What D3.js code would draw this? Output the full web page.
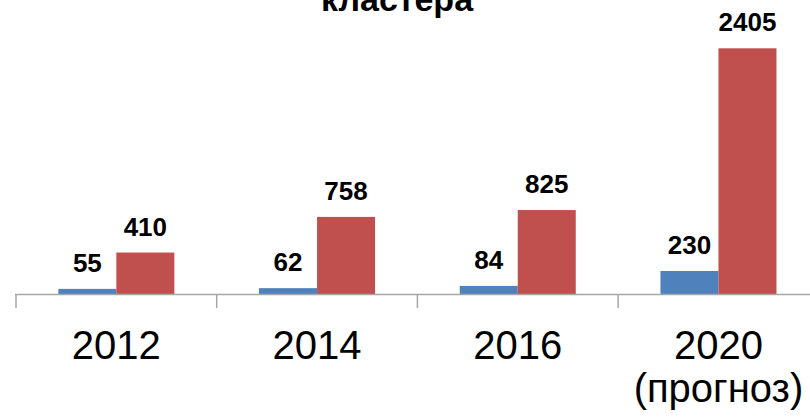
<!DOCTYPE html>
<html>
<head>
<meta charset="utf-8">
<script src="https://cdn.jsdelivr.net/npm/d3@7"></script>
<style>
  body { margin: 0; background: #fff; }
  text { font-family: "Liberation Sans", Arial, sans-serif; }
</style>
</head>
<body>
<div id="chart"></div>
<script>
// data
const years = ["2012", "2014", "2016", "2020"];
const yearSub = ["", "", "", "(прогноз)"];
const seriesBlue = [55, 62, 84, 230];
const seriesRed = [410, 758, 825, 2405];
const titleText = "кластера";

let width = 810, height = 418,
    baseY = 294.5;

let svg = d3.select("#chart")
  .append("svg")
    .attr("width", width)
    .attr("height", height);

// scales
let x = d3.scaleBand()
  .domain(years)
  .range([16, 16 + 4 * 200.7]);

let xInner = d3.scaleBand()
  .domain(["blue", "red"])
  .range([0, x.bandwidth()])
  .paddingInner(0)
  .paddingOuter(0.73);

let y = d3.scaleLinear()
  .domain([0, 2405])
  .range([baseY, 48.3]);

let rows = years.map(function(d, i) {
  return {year: d, sub: yearSub[i], blue: seriesBlue[i], red: seriesRed[i]};
});

// title (top cut off, as in the original)
svg.append("text")
  .attr("x", 397)
  .attr("y", 11)
  .attr("text-anchor", "middle")
  .style("font-size", "34px")
  .style("font-weight", "bold")
  .text(titleText);

// bars
let groups = svg.append("g")
  .selectAll("g")
  .data(rows)
  .enter()
  .append("g")
    .attr("transform", function(d) { return "translate(" + x(d.year) + ",0)"; });

let series = [
  {key: "blue", color: "#4F81BD"},
  {key: "red", color: "#C0504D"}
];

series.forEach(function(s) {
  groups.append("rect")
    .attr("x", xInner(s.key))
    .attr("width", xInner.bandwidth())
    .attr("y", function(d) { return y(d[s.key]); })
    .attr("height", function(d) { return baseY - y(d[s.key]); })
    .attr("fill", s.color);

  groups.append("text")
    .attr("x", xInner(s.key) + xInner.bandwidth() / 2)
    .attr("y", function(d) { return y(d[s.key]) - 17; })
    .attr("text-anchor", "middle")
    .style("font-size", "26px")
    .style("font-weight", "bold")
    .attr("fill", "#000")
    .text(function(d) { return d[s.key]; });
});

// axis line and ticks
let axis = svg.append("g");
axis.append("line")
  .attr("x1", 15).attr("x2", width)
  .attr("y1", baseY).attr("y2", baseY)
  .attr("stroke", "#A6A6A6")
  .attr("stroke-width", 1.5);

axis.selectAll("line.tick")
  .data(years)
  .enter()
  .append("line")
    .attr("class", "tick")
    .attr("x1", function(d) { return x(d); })
    .attr("x2", function(d) { return x(d); })
    .attr("y1", baseY)
    .attr("y2", 308)
    .attr("stroke", "#A6A6A6")
    .attr("stroke-width", 1.5);

// category labels
let labels = axis.selectAll("text")
  .data(rows)
  .enter()
  .append("text")
    .attr("text-anchor", "middle")
    .style("font-size", "40px")
    .attr("fill", "#000");

labels.append("tspan")
  .attr("x", function(d) { return x(d.year) + x.bandwidth() / 2; })
  .attr("y", 359)
  .text(function(d) { return d.year; });

labels.filter(function(d) { return d.sub; })
  .append("tspan")
  .attr("x", function(d) { return x(d.year) + x.bandwidth() / 2; })
  .attr("y", 402)
  .text(function(d) { return d.sub; });
</script>
</body>
</html>
